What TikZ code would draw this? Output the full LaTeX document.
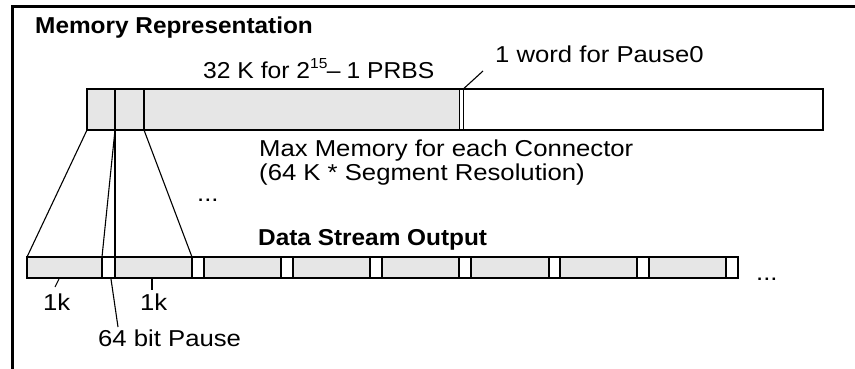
\documentclass[tikz,border=0pt]{standalone}
\usepackage{fontspec}
\setmainfont{Liberation Sans}[FakeStretch=1.117]
\newfontfamily\headfont{Liberation Sans}[FakeStretch=1.06]
\definecolor{barGray}{RGB}{230,230,230}
\begin{document}
\begin{tikzpicture}[x=1pt,y=-1pt,
  frameline/.style={line width=3pt,line join=miter},
  barline/.style={draw=black,line width=2.2pt},
  fanline/.style={line width=1.1pt},
  lbl/.style={inner sep=0pt,anchor=base west,font=\fontsize{23}{25}\selectfont},
  head/.style={inner sep=0pt,anchor=base west,font=\headfont\fontsize{23}{25}\selectfont\bfseries}]
\useasboundingbox (0,0) rectangle (855,369);
% frame (top and left edges only)
\coordinate (fTR) at (855,6.5);
\coordinate (fTL) at (12.5,6.5);
\coordinate (fBL) at (12.5,369);
\draw[frameline] (fTR) -- (fTL) -- (fBL);
% ---- top memory bar ----
\coordinate (tTL) at (87,89);
\coordinate (tBL) at (87,130);
\coordinate (tBR) at (823,130);
\fill[barGray] (tTL) rectangle (459.3,130);
\draw[barline] (tTL) rectangle (tBR);
\coordinate (s1t) at (115,89);
\coordinate (s1b) at (115,130);
\coordinate (s2t) at (144,89);
\coordinate (s2b) at (144,130);
\draw[barline] (s2t) -- (s2b);
\coordinate (w1t) at (459.3,89);
\coordinate (w1b) at (459.3,130);
\coordinate (w2t) at (463.3,89);
\coordinate (w2b) at (463.3,130);
\draw[line width=1.4pt] (w1t) -- (w1b);
\draw[line width=1.4pt] (w2t) -- (w2b);
% ---- bottom data stream bar ----
\foreach \a/\b in {27/102,115/192,204/281,293/370,382/459,471/549,560/637,649/726}
  \fill[barGray] (\a,257) rectangle (\b,278);
\coordinate (bTL) at (27,257);
\coordinate (bBR) at (738,278);
\draw[barline] (bTL) rectangle (bBR);
\foreach \x [count=\i] in {102,115,192,204,281,293,370,382,459,471,549,560,637,649,726} {
  \coordinate (d\i t) at (\x,257);
  \coordinate (d\i b) at (\x,278);
  \draw[barline] (d\i t) -- (d\i b);
}
% divider at 115 continues from the top bar down to the data stream
\coordinate (v1b) at (115,257);
\draw[barline] (s1t) -- (v1b);
% fan lines
\draw[fanline] (tBL) -- (bTL);
\draw[fanline] (s1b) -- (d1t);
\draw[fanline] (s2b) -- (d3t);
% ---- labels ----
\node[head] (title) at (35,34) {Memory Representation};
\node[lbl] (prbs) at (203,79) {\scalebox{0.96}[1]{32 K for 2\raisebox{10pt}{\fontsize{14.5}{15}\selectfont 15}\kern-0.5pt–\kern-1pt{} 1 PRBS}};
\node[lbl] (pause0) at (495,63) {1 word for Pause0};
\coordinate (p0a) at (463.3,89);
\coordinate (p0b) at (483,71);
\draw[fanline] (p0a) -- (p0b);
\node[lbl] (max1) at (259,156) {Max Memory for each Connector};
\node[lbl] (max2) at (259,180) {(64 K * Segment Resolution)};
\node[lbl] (dots1) at (197,201) {...};
\node[head] (dso) at (258,245) {Data Stream Output};
\node[lbl] (dots2) at (756,280) {...};
\node[lbl] (k1) at (43,310) {1k};
\node[lbl] (k2) at (140,310) {1k};
\node[lbl] (pause) at (98,346) {64 bit Pause};
\coordinate (k1a) at (59,279);
\coordinate (k1b) at (55,287);
\draw[fanline] (k1a) -- (k1b);
\coordinate (k2a) at (152,279);
\coordinate (k2b) at (152,290);
\draw[fanline] (k2a) -- (k2b);
\coordinate (pa) at (111,279);
\coordinate (pb) at (118,327);
\draw[fanline] (pa) -- (pb);
\end{tikzpicture}
\end{document}
